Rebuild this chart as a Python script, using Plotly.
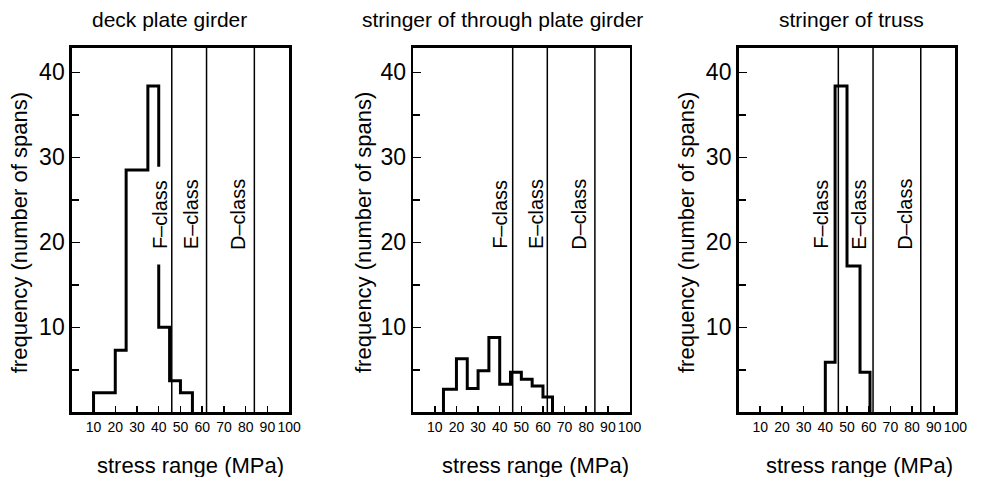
import plotly.graph_objects as go

# ---- data ----
titles = ["deck plate girder", "stringer of through plate girder", "stringer of truss"]

deck_edges = [10, 20, 25, 35, 40, 45, 50, 55.5]
deck_counts = [2.3, 7.3, 28.5, 38.4, 10.0, 3.7, 2.3]

thru_edges = [14, 20, 25, 30, 35, 40, 45, 50, 55, 60, 64.4]
thru_counts = [2.7, 6.3, 2.8, 4.9, 8.8, 3.3, 4.7, 3.9, 3.1, 1.8]

truss_edges = [40, 44.5, 50, 56, 60.6]
truss_counts = [5.9, 38.4, 17.2, 4.7]

class_names = ["F–class", "E–class", "D–class"]
class_limits = [46, 62, 84]
# label centre positions (x, MPa) per panel
class_label_x = [[40.5, 54.8, 76.8], [40.4, 57.1, 76.9], [38.2, 55.7, 76.9]]
class_label_y = 23.3

x_ticks = [10, 20, 30, 40, 50, 60, 70, 80, 90, 100]
y_ticks = [10, 20, 30, 40]
y_minor = [5, 15, 25, 35]

panels = [(deck_edges, deck_counts), (thru_edges, thru_counts), (truss_edges, truss_counts)]

# ---- layout geometry ----
W, H = 981, 477
x_domains = [(72.7 / W, 292.7 / W), (418.3 / W, 637.3 / W), (747.7 / W, 967.3 / W)]
y_domain = ((477 - 412.3) / H, (477 - 47.7) / H)
title_x = [171.7, 508.5, 862.5]
ytitle_x = [20, 368, 695]
xtitle_x = [193, 541.7, 870]

FONT = "Liberation Sans, Arial, Helvetica, sans-serif"

fig = go.Figure()
shapes = []
annotations = []

for i, (edges, counts) in enumerate(panels):
    sfx = "" if i == 0 else str(i + 1)
    xs = [edges[0]] + list(edges)
    ys = [0] + list(counts) + [0]
    fig.add_trace(go.Scatter(
        x=xs, y=ys, mode="lines", line=dict(shape="hv", color="black", width=3),
        xaxis="x" + sfx, yaxis="y" + sfx, showlegend=False, hoverinfo="skip"))

    ax = dict(domain=list(x_domains[i]), range=[0, 100], showgrid=False, zeroline=False,
              showline=True, linecolor="black", linewidth=2.5, mirror=True,
              tickvals=x_ticks, ticktext=[str(v) for v in x_ticks], tickangle=0,
              ticks="inside", ticklen=6, tickwidth=1.5, tickcolor="black",
              tickfont=dict(family=FONT, size=14, color="black"),
              anchor="y" + sfx, fixedrange=True)
    ay = dict(domain=list(y_domain), range=[0, 42.9], showgrid=False, zeroline=False,
              showline=True, linecolor="black", linewidth=2.5, mirror=True,
              tickvals=y_ticks, ticktext=[str(v) for v in y_ticks],
              ticks="inside", ticklen=8, tickwidth=1.5, tickcolor="black",
              minor=dict(tickvals=y_minor, ticks="inside", ticklen=7, tickwidth=1.5,
                         tickcolor="black"),
              tickfont=dict(family=FONT, size=23, color="black"),
              anchor="x" + sfx, fixedrange=True)
    fig.update_layout(**{"xaxis" + sfx: ax, "yaxis" + sfx: ay})

    # class limit lines
    for lim in class_limits:
        shapes.append(dict(type="line", xref="x" + sfx, yref="y" + sfx + " domain",
                           x0=lim, x1=lim, y0=0, y1=1,
                           line=dict(color="black", width=1.5), layer="above"))
    for name, lx in zip(class_names, class_label_x[i]):
        annotations.append(dict(text=name, x=lx, y=class_label_y, xref="x" + sfx, yref="y" + sfx,
                                textangle=-90, showarrow=False,
                                font=dict(family=FONT, size=20, color="black")))

    annotations.append(dict(text=titles[i], x=title_x[i] / W, y=1 - 20 / H, xref="paper", yref="paper",
                            showarrow=False, xanchor="center", yanchor="middle",
                            font=dict(family=FONT, size=21, color="black")))
    annotations.append(dict(text="frequency (number of spans)", x=ytitle_x[i] / W, y=1 - 232.5 / H,
                            xref="paper", yref="paper", textangle=-90, showarrow=False,
                            xanchor="center", yanchor="middle",
                            font=dict(family=FONT, size=22, color="black")))
    annotations.append(dict(text="stress range (MPa)", x=xtitle_x[i] / W, y=1 - 465 / H,
                            xref="paper", yref="paper", showarrow=False,
                            xanchor="center", yanchor="middle",
                            font=dict(family=FONT, size=22, color="black")))

# white gap behind the F-class label in the first panel
shapes.insert(0, dict(type="rect", xref="x", yref="y", x0=38.5, x1=43.5, y0=17.4, y1=28.9,
                      fillcolor="white", line=dict(width=0), layer="above"))

fig.update_layout(width=W, height=H, margin=dict(l=0, r=0, t=0, b=0),
                  paper_bgcolor="white", plot_bgcolor="white",
                  shapes=shapes, annotations=annotations, showlegend=False)

fig.write_html("out.html", config={"displayModeBar": False, "staticPlot": True},
               post_script="document.body.style.margin='0';document.body.style.overflow='hidden';")
